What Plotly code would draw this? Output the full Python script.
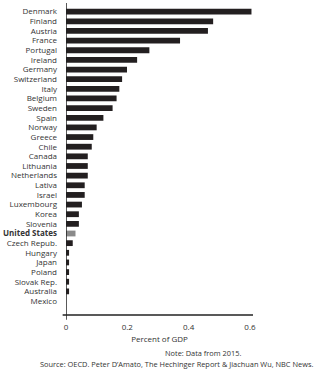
import plotly.graph_objects as go

countries = ["Denmark", "Finland", "Austria", "France", "Portugal", "Ireland", "Germany",
             "Switzerland", "Italy", "Belgium", "Sweden", "Spain", "Norway", "Greece", "Chile",
             "Canada", "Lithuania", "Netherlands", "Lativa", "Israel", "Luxembourg", "Korea",
             "Slovenia", "United States", "Czech Repub.", "Hungary", "Japan", "Poland",
             "Slovak Rep.", "Australia", "Mexico"]
values = [0.605, 0.48, 0.463, 0.372, 0.272, 0.232, 0.199, 0.183, 0.174, 0.165, 0.152,
          0.122, 0.100, 0.089, 0.084, 0.071, 0.071, 0.071, 0.061, 0.061, 0.052, 0.042,
          0.042, 0.031, 0.022, 0.010, 0.010, 0.010, 0.010, 0.010, 0.0]
highlight = "United States"
x_ticks = [0, 0.2, 0.4, 0.6]
x_ticktext = ["0", "0.2", "0.4", "0.6"]

colors = ["#8a8a8a" if c == highlight else "#231f20" for c in countries]
ticktext = ["<b>%s</b>" % c if c == highlight else c for c in countries]

FONT = "Open Sans"
fig = go.Figure(go.Bar(
    x=values, y=countries, orientation="h",
    marker=dict(color=colors, line=dict(width=0)),
    width=0.6,
))

n = len(countries)
fig.update_layout(
    width=324, height=389,
    margin=dict(l=64, r=71, t=3, b=74),
    plot_bgcolor="white", paper_bgcolor="white",
    showlegend=False,
    font=dict(family=FONT, size=8, color="#333333"),
    xaxis=dict(range=[0, 0.61], tickvals=x_ticks, ticktext=x_ticktext,
               showgrid=False, zeroline=False, showline=False, ticks="",
               ticklabelstandoff=6,
               tickfont=dict(size=8, color="#333333"),
               title=dict(text="Percent of GDP", font=dict(size=8, color="#333333"), standoff=5)),
    yaxis=dict(categoryorder="array", categoryarray=countries,
               tickvals=countries, ticktext=ticktext,
               range=[n - 1 + 1.45, -0.9],
               showgrid=False, zeroline=False, showline=False, ticks="",
               ticklabelstandoff=8,
               tickfont=dict(size=8, color="#333333")),
    shapes=[
        dict(type="line", xref="x", yref="paper", x0=0, x1=0, y0=-0.015, y1=1,
             line=dict(color="#222222", width=1.5)),
        dict(type="line", xref="paper", yref="paper", x0=-0.018, x1=1, y0=0, y1=0,
             line=dict(color="#222222", width=1.5)),
    ],
    annotations=[
        dict(text="Note: Data from 2015.", xref="paper", yref="paper",
             x=(202 - 64) / 189, y=-(353 - 315) / 312, xanchor="center", yanchor="middle",
             showarrow=False, font=dict(size=7.4, color="#333333")),
        dict(text="Source: OECD. Peter D\u2019Amato, The Hechinger Report & Jiachuan Wu, NBC News.",
             xref="paper", yref="paper",
             x=(316 - 64) / 189, y=-(364 - 315) / 312, xanchor="right", yanchor="middle",
             showarrow=False, font=dict(size=7.4, color="#333333")),
    ],
)

fig.write_html("out.html")
